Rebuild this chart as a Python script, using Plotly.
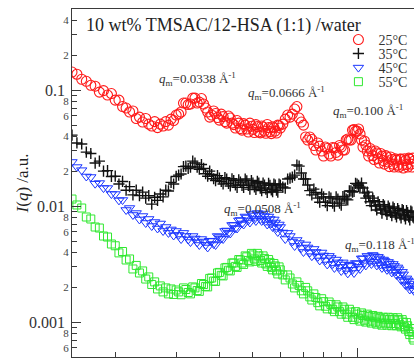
import plotly.graph_objects as go

# scattering vector q (1/Angstrom), main grid
q = [0.0150, 0.0155, 0.0160, 0.0165, 0.0170, 0.0175, 0.0180, 0.0185, 0.0190, 0.0195,
     0.0200, 0.0205, 0.0210, 0.0215, 0.0220, 0.0225, 0.0230, 0.0235, 0.0240, 0.0245,
     0.0250, 0.0255, 0.0260, 0.0265, 0.0270, 0.0275, 0.0280, 0.0285, 0.0290, 0.0295,
     0.0300, 0.031, 0.032, 0.033, 0.034, 0.035, 0.036, 0.037, 0.038, 0.039,
     0.040, 0.041, 0.042, 0.043, 0.044, 0.045, 0.046, 0.047, 0.048, 0.049,
     0.050, 0.051, 0.052, 0.053, 0.054, 0.055, 0.056, 0.057, 0.058, 0.059,
     0.060, 0.062, 0.064, 0.066, 0.068, 0.070, 0.072, 0.074, 0.076, 0.078,
     0.080, 0.082, 0.084, 0.086, 0.088, 0.090, 0.092, 0.094, 0.096, 0.098,
     0.100, 0.102, 0.104, 0.106, 0.108, 0.110, 0.112, 0.114, 0.116, 0.118,
     0.120, 0.122, 0.124, 0.126, 0.128, 0.130, 0.132, 0.134, 0.136, 0.138,
     0.140, 0.142, 0.144, 0.146]

# interleaved q points (denser sampling at mid/high q)
q_b = [0.0305, 0.0315, 0.0325, 0.0335, 0.0345, 0.0355, 0.0365, 0.0375, 0.0385, 0.0395,
       0.0405, 0.0415, 0.0425, 0.0435, 0.0445, 0.0455, 0.0465, 0.0475, 0.0485, 0.0495,
       0.0505, 0.0515, 0.0525, 0.0535, 0.0545, 0.0555, 0.0565, 0.0575, 0.0585, 0.0595,
       0.061, 0.063, 0.065, 0.067, 0.069, 0.071, 0.073, 0.075, 0.077, 0.079,
       0.081, 0.083, 0.085, 0.087, 0.089, 0.091, 0.093, 0.095, 0.097, 0.099,
       0.101, 0.103, 0.105, 0.107, 0.109, 0.111, 0.113, 0.115, 0.117, 0.119,
       0.121, 0.123, 0.125, 0.127, 0.129, 0.131, 0.133, 0.135, 0.137, 0.139,
       0.141, 0.143, 0.145]

I_25 = [0.143, 0.137, 0.124, 0.119, 0.110, 0.108, 0.0961, 0.099, 0.0906, 0.0933,
        0.0820, 0.0820, 0.0721, 0.0700, 0.0647, 0.0660, 0.0569, 0.0585, 0.0530, 0.0569,
        0.0509, 0.0490, 0.0535, 0.0475, 0.0509, 0.0490, 0.0535, 0.0499, 0.0562, 0.0546,
        0.0609, 0.0647, 0.0773, 0.0758, 0.0853, 0.0788, 0.0758, 0.0647, 0.0609, 0.0628,
        0.0551, 0.0591, 0.0519, 0.0574, 0.0504, 0.0546, 0.0466, 0.0514, 0.0462, 0.0519,
        0.0458, 0.0504, 0.0436, 0.0490, 0.0443, 0.0505, 0.0438, 0.0483, 0.0443, 0.0499,
        0.0471, 0.0562, 0.0585, 0.0686, 0.0574, 0.0499, 0.0371, 0.0375, 0.0304, 0.0329,
        0.0270, 0.0314, 0.0270, 0.0317, 0.0275, 0.0323, 0.0304, 0.0379, 0.0371, 0.0456,
        0.0443, 0.0418, 0.0323, 0.0336, 0.0270, 0.0298, 0.0252, 0.0287, 0.0235, 0.0270,
        0.0230, 0.0265, 0.0219, 0.0252, 0.0217, 0.0249, 0.0217, 0.0254, 0.0213, 0.0247,
        0.0217, 0.0254, 0.0217, 0.0244]
I_25_b = [0.0621, 0.0773, 0.0750, 0.0853, 0.0773, 0.0845, 0.0700, 0.0585, 0.0660, 0.0580,
          0.0621, 0.0535, 0.0597, 0.0519, 0.0471, 0.0519, 0.0452, 0.0499, 0.0435, 0.0488,
          0.0431, 0.0484, 0.0428, 0.0480, 0.0424, 0.0475, 0.0421, 0.0473, 0.0426, 0.0494,
          0.0509, 0.0609, 0.0621, 0.0721, 0.0530, 0.0394, 0.0394, 0.0333, 0.0350, 0.0298,
          0.0323, 0.0281, 0.0320, 0.0290, 0.0333, 0.0304, 0.0371, 0.0371, 0.0452, 0.0443,
          0.0462, 0.0371, 0.0364, 0.0298, 0.0314, 0.0272, 0.0298, 0.0256, 0.0284, 0.0247,
          0.0272, 0.0240, 0.0265, 0.0230, 0.0255, 0.0226, 0.0254, 0.0226, 0.0256, 0.0228,
          0.0259, 0.0230, 0.0259]

I_35 = [0.0409, 0.0350, 0.0343, 0.0292, 0.0284, 0.0235, 0.0244, 0.0200, 0.0202, 0.0180,
        0.0181, 0.0155, 0.0163, 0.0137, 0.0147, 0.0125, 0.0137, 0.0123, 0.0132, 0.0117,
        0.0123, 0.0104, 0.0119, 0.0112, 0.0127, 0.0120, 0.0137, 0.0135, 0.0160, 0.0155,
        0.0180, 0.0189, 0.0221, 0.0217, 0.0235, 0.0208, 0.0211, 0.0181, 0.0187, 0.0166,
        0.0174, 0.0155, 0.0171, 0.0149, 0.0166, 0.0145, 0.0161, 0.0145, 0.0165, 0.0140,
        0.0158, 0.0139, 0.0158, 0.0136, 0.0152, 0.0131, 0.0151, 0.0133, 0.0152, 0.0132,
        0.0152, 0.0143, 0.0174, 0.0185, 0.0221, 0.0171, 0.0152, 0.0125, 0.0131, 0.0108,
        0.0120, 0.0101, 0.0117, 0.0100, 0.0115, 0.0102, 0.0120, 0.0113, 0.0135, 0.0134,
        0.0155, 0.0146, 0.0143, 0.0117, 0.0122, 0.0101, 0.0111, 0.00925, 0.0103, 0.00871,
        0.0100, 0.00846, 0.00962, 0.00825, 0.00953, 0.00805, 0.00912, 0.00789, 0.00916, 0.00774,
        0.00880, 0.00759, 0.00889, 0.00789]
I_35_b = [0.0185, 0.0219, 0.0211, 0.0244, 0.0217, 0.0228, 0.0190, 0.0200, 0.0172, 0.0183,
          0.0163, 0.0176, 0.0157, 0.0172, 0.0152, 0.0168, 0.0151, 0.0171, 0.0151, 0.0166,
          0.0146, 0.0163, 0.0143, 0.0158, 0.0140, 0.0157, 0.0138, 0.0155, 0.0137, 0.0155,
          0.0146, 0.0171, 0.0178, 0.0226, 0.0193, 0.0171, 0.0136, 0.0140, 0.0117, 0.0127,
          0.0108, 0.0120, 0.0106, 0.0120, 0.0106, 0.0121, 0.0115, 0.0135, 0.0132, 0.0157,
          0.0151, 0.0158, 0.0130, 0.0132, 0.0109, 0.0117, 0.0100, 0.0109, 0.00943, 0.0103,
          0.00907, 0.0100, 0.00880, 0.00981, 0.00854, 0.00953, 0.00838, 0.00934, 0.00821, 0.00916,
          0.00805, 0.00907, 0.00805]

I_45 = [0.0240, 0.0217, 0.0204, 0.0180, 0.0178, 0.0156, 0.0158, 0.0143, 0.0143, 0.0127,
        0.0127, 0.0112, 0.01128, 0.00925, 0.00962, 0.00838, 0.00871, 0.00767, 0.00821, 0.00715,
        0.00774, 0.00673, 0.00729, 0.00641, 0.00708, 0.00610, 0.00660, 0.00587, 0.00629, 0.00558,
        0.00610, 0.00520, 0.00552, 0.00490, 0.00526, 0.00462, 0.00495, 0.00440, 0.00500, 0.00462,
        0.00541, 0.00520, 0.00616, 0.00581, 0.00687, 0.00641, 0.00759, 0.00694, 0.00797, 0.00722,
        0.00830, 0.00744, 0.00838, 0.00744, 0.00821, 0.00694, 0.00774, 0.00660, 0.00722, 0.00598,
        0.00660, 0.00520, 0.00552, 0.00453, 0.00480, 0.00402, 0.00440, 0.00370, 0.00402, 0.00340,
        0.00375, 0.00314, 0.00357, 0.00293, 0.00327, 0.00276, 0.00314, 0.00263, 0.00305, 0.00265,
        0.00320, 0.00287, 0.00354, 0.00308, 0.00361, 0.00317, 0.00370, 0.00308, 0.00354, 0.00293,
        0.00337, 0.00282, 0.00320, 0.00268, 0.00305, 0.00255, 0.00285, 0.00231, 0.00258, 0.00209,
        0.00229, 0.00191, 0.00215, 0.00186]
I_45_b = [0.00564, 0.00587, 0.00515, 0.00552, 0.00487, 0.00520, 0.00462, 0.00503, 0.00471, 0.00552,
          0.00526, 0.00610, 0.00587, 0.00687, 0.00647, 0.00752, 0.00708, 0.00813, 0.00752, 0.00854,
          0.00774, 0.00871, 0.00774, 0.00862, 0.00744, 0.00813, 0.00708, 0.00767, 0.00647, 0.00694,
          0.00592, 0.00587, 0.00495, 0.00510, 0.00435, 0.00467, 0.00398, 0.00427, 0.00365, 0.00398,
          0.00340, 0.00372, 0.00317, 0.00346, 0.00299, 0.00327, 0.00282, 0.00311, 0.00282, 0.00323,
          0.00299, 0.00354, 0.00323, 0.00372, 0.00334, 0.00379, 0.00330, 0.00365, 0.00314, 0.00346,
          0.00299, 0.00330, 0.00287, 0.00317, 0.00273, 0.00296, 0.00253, 0.00271, 0.00224, 0.00238,
          0.00205, 0.00224, 0.00193]

I_55 = [0.0115, 0.01022, 0.00962, 0.00805, 0.00774, 0.00660, 0.00647, 0.00552, 0.00541, 0.00471,
        0.00455, 0.00395, 0.00406, 0.00343, 0.00350, 0.00287, 0.00308, 0.00265, 0.00276, 0.00235,
        0.00245, 0.00211, 0.00222, 0.00193, 0.00205, 0.00182, 0.00197, 0.00175, 0.00193, 0.00173,
        0.00189, 0.00172, 0.00191, 0.00175, 0.00197, 0.00184, 0.00211, 0.00201, 0.00240, 0.00224,
        0.00268, 0.00250, 0.00296, 0.00276, 0.00323, 0.00296, 0.00343, 0.00314, 0.00365, 0.00330,
        0.00379, 0.00334, 0.00372, 0.00323, 0.00354, 0.00302, 0.00327, 0.00282, 0.00305, 0.00260,
        0.00282, 0.00231, 0.00240, 0.00197, 0.00207, 0.00175, 0.00186, 0.00155, 0.00163, 0.00138,
        0.00150, 0.00130, 0.00142, 0.00123, 0.00135, 0.00117, 0.00129, 0.00110, 0.00122, 0.00105,
        0.00117, 0.00102, 0.00114, 0.00100, 0.00112, 0.00098, 0.00110, 0.00096, 0.00108, 0.00094,
        0.00106, 0.00094, 0.00105, 0.00093, 0.00105, 0.00093, 0.00104, 0.00091, 0.00100, 0.00087,
        0.00093, 0.00078, 0.00082, 0.00070]
I_55_b = [0.00182, 0.00197, 0.00180, 0.00201, 0.00187, 0.00215, 0.00203, 0.00238, 0.00226, 0.00265,
          0.00253, 0.00293, 0.00280, 0.00323, 0.00302, 0.00346, 0.00323, 0.00372, 0.00340, 0.00391,
          0.00350, 0.00391, 0.00340, 0.00372, 0.00317, 0.00346, 0.00296, 0.00320, 0.00276, 0.00299,
          0.00255, 0.00255, 0.00213, 0.00222, 0.00186, 0.00199, 0.00165, 0.00175, 0.00147, 0.00159,
          0.00137, 0.00149, 0.00129, 0.00141, 0.00123, 0.00135, 0.00117, 0.00129, 0.00110, 0.00123,
          0.00108, 0.00120, 0.00104, 0.00117, 0.00102, 0.00114, 0.00100, 0.00112, 0.00098, 0.00110,
          0.00098, 0.00110, 0.00097, 0.00109, 0.00097, 0.00109, 0.00095, 0.00105, 0.00091, 0.00099,
          0.00083, 0.00088, 0.00073]

series_names = ["25°C", "35°C", "45°C", "55°C"]

x_tick_vals = [0.02, 0.03, 0.04, 0.05, 0.06, 0.07, 0.08, 0.09]
x_tick_text = ["2", "3", "4", "5", "6", "7", "8", "9"]
y_minor_label_vals = [0.0006, 0.0008, 0.002, 0.004, 0.006, 0.008,
                      0.02, 0.04, 0.06, 0.08, 0.2, 0.4]
y_minor_label_text = ["6", "8", "2", "4", "6", "8", "2", "4", "6", "8", "2", "4"]
y_minor_unlabeled = [0.0007, 0.0009, 0.003, 0.005, 0.007, 0.009,
                     0.03, 0.05, 0.07, 0.09, 0.3]
y_major_vals = [0.001, 0.01, 0.1]
y_major_text = ["0.001", "0.01", "0.1"]

peak_labels = [
    ("0.0338", 0.2485, 0.799),
    ("0.0666", 0.5088, 0.7586),
    ("0.100", 0.7573, 0.7069),
    ("0.0508", 0.4386, 0.4253),
    ("0.118", 0.7924, 0.3218),
]

FONT = "Liberation Serif, Times New Roman, serif"
AX = "#3a3a3a"

styles = [
    dict(symbol="circle-open", size=10, color="#ff1a1a", line=dict(width=1.1, color="#ff1a1a")),
    dict(symbol="cross-thin", size=8, color="#111111", line=dict(width=1.4, color="#111111")),
    dict(symbol="triangle-down-open", size=9, color="#1a35ff", line=dict(width=1, color="#1a35ff")),
    dict(symbol="square-open", size=8, color="#2fe82f", line=dict(width=1, color="#2fe82f")),
]
data = [(I_25, I_25_b), (I_35, I_35_b), (I_45, I_45_b), (I_55, I_55_b)]
legend_ids = ["legend", "legend2", "legend3", "legend4"]
legend_y = [0.911, 0.871, 0.8305, 0.790]

fig = go.Figure()
for name, (vals, vals_b), st, lid in zip(series_names, data, styles, legend_ids):
    fig.add_trace(go.Scatter(x=q + q_b, y=vals + vals_b, mode="markers", name=name,
                             marker=st, legend=lid, showlegend=True))

xr = [-1.8239, -0.8355]
yr = [-3.30103, -0.30103]

layout_legends = {}
for lid, ly in zip(legend_ids, legend_y):
    layout_legends[lid] = dict(x=0.779, y=ly, xanchor="left", yanchor="middle",
                               bgcolor="rgba(0,0,0,0)", borderwidth=0,
                               font=dict(family=FONT, size=14, color="#333333"),
                               itemwidth=30)

annotations = [
    dict(text="10 wt% TMSAC/12-HSA (1:1) /water", xref="paper", yref="paper",
         x=0.036, y=0.954, xanchor="left", yanchor="middle", showarrow=False,
         font=dict(family=FONT, size=18, color="#222222")),
    dict(text="<i>I</i>(<i>q</i>) /a.u.", xref="paper", yref="paper",
         x=-0.145, y=0.50, xanchor="center", yanchor="middle", showarrow=False,
         textangle=-90, font=dict(family=FONT, size=17, color="#222222")),
]
for val, ax_, ay_ in peak_labels:
    annotations.append(dict(
        text="<i>q</i><sub>m</sub>=" + val + " Å<sup>-1</sup>",
        xref="paper", yref="paper", x=ax_, y=ay_, xanchor="left", yanchor="middle",
        showarrow=False, font=dict(family=FONT, size=13, color="#333333")))

fig.update_layout(
    width=414, height=362,
    margin=dict(l=72, r=0, t=9, b=5, autoexpand=False),
    paper_bgcolor="white", plot_bgcolor="white",
    font=dict(family=FONT, color="#333333"),
    xaxis=dict(type="log", range=xr, showgrid=False, zeroline=False, automargin=False,
               showline=True, linecolor=AX, linewidth=1, mirror=True,
               ticks="inside", ticklen=5, tickcolor=AX, tickwidth=1,
               tickvals=x_tick_vals, ticktext=x_tick_text,
               tickfont=dict(family=FONT, size=14, color="#333333"),
               ticklabelstandoff=2),
    xaxis2=dict(type="log", range=xr, overlaying="x", anchor="y", side="bottom",
                showgrid=False, zeroline=False, showline=False, automargin=False,
                ticks="inside", ticklen=9, tickcolor=AX, tickwidth=1,
                tickvals=[0.1], showticklabels=False),
    yaxis=dict(type="log", range=yr, showgrid=False, zeroline=False, automargin=False,
               showline=True, linecolor=AX, linewidth=1, mirror=False,
               ticks="inside", ticklen=5, tickcolor=AX, tickwidth=1,
               tickvals=y_minor_label_vals, ticktext=y_minor_label_text,
               tickfont=dict(family=FONT, size=11, color="#444444"),
               ticklabelstandoff=0,
               minor=dict(tickvals=y_minor_unlabeled, ticks="inside", ticklen=5,
                          tickcolor=AX, tickwidth=1)),
    yaxis2=dict(type="log", range=yr, overlaying="y", anchor="x", side="left",
                showgrid=False, zeroline=False, showline=False, automargin=False,
                ticks="inside", ticklen=9, tickcolor=AX, tickwidth=1,
                tickvals=y_major_vals, ticktext=y_major_text,
                tickfont=dict(family=FONT, size=16, color="#333333"),
                ticklabelstandoff=6),
    annotations=annotations,
    **layout_legends,
)

fig.add_trace(go.Scatter(x=[], y=[], xaxis="x2", yaxis="y2", showlegend=False))

fig.write_html("out.html", config={"displayModeBar": False},
               post_script="document.body.style.margin='0';")
